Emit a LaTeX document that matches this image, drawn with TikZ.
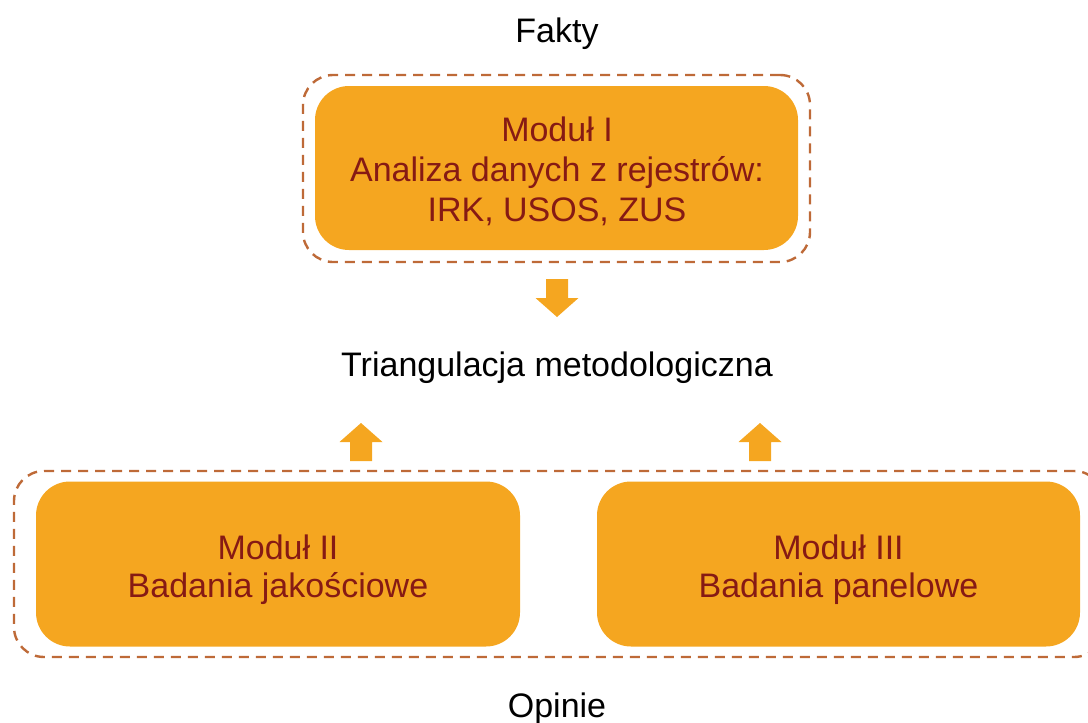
\documentclass[tikz,border=0pt]{standalone}
\usepackage{fontspec}
\setmainfont{Liberation Sans}
\usetikzlibrary{positioning}
\definecolor{modPomarancz}{HTML}{F5A620}
\definecolor{modBordo}{HTML}{861A14}
\definecolor{modRamka}{HTML}{BE6A38}

\begin{document}
\begin{tikzpicture}[x=1pt, y=-1pt, font=\fontsize{34}{40}\selectfont,
    every node/.style={align=center},
    modul/.style={fill=modPomarancz, text=modBordo, rounded corners=34pt,
      minimum width=484pt, minimum height=165pt, inner sep=0pt},
    ramka/.style={draw=modRamka, line width=2.4pt, dash pattern=on 10pt off 7pt,
      rounded corners=30pt, inner sep=0pt},
    strzalka/.style={fill=modPomarancz}]
    \useasboundingbox (0,0) rectangle (1088,723);
    % gorna grupa: fakty
    \node[ramka, minimum width=507pt, minimum height=187pt] (rFakty) at (556.5,168.5) {};
    \node[modul, minimum width=483pt, minimum height=164pt] (m1) at (556.5,168) {};
    \node[text=modBordo] (m1tekst) at (557,171)
      {Moduł I\\Analiza danych z rejestrów:\\IRK, USOS, ZUS};
    \node[anchor=base] (fakty) at (557,42) {Fakty};
    % dolna grupa: opinie
    \node[ramka, minimum width=1090pt, minimum height=186pt] (rOpinie) at (559,564) {};
    \node[modul] (m2) at (278,564) {};
    \node[modul, minimum width=483pt] (m3) at (838.5,564) {};
    \node[text=modBordo, font=\fontsize{34}{38}\selectfont] (m2tekst) at (278,570)
      {Moduł II\\Badania jakościowe};
    \node[text=modBordo, font=\fontsize{34}{38}\selectfont] (m3tekst) at (838.5,570)
      {Moduł III\\Badania panelowe};
    \node[anchor=base] (opinie) at (557,717) {Opinie};
    % srodek
    \node[anchor=base] (tri) at (557,376) {Triangulacja metodologiczna};
    % strzalki
    \fill[strzalka] (546,279) -- (568,279) -- (568,298) -- (578.5,298) -- (557,317)
      -- (535.5,298) -- (546,298) -- cycle;
    \fill[strzalka] (350,461) -- (372,461) -- (372,442) -- (382.5,442) -- (361,423)
      -- (339.5,442) -- (350,442) -- cycle;
    \fill[strzalka] (749,461) -- (771,461) -- (771,442) -- (781.5,442) -- (760,423)
      -- (738.5,442) -- (749,442) -- cycle;
\end{tikzpicture}
\end{document}
